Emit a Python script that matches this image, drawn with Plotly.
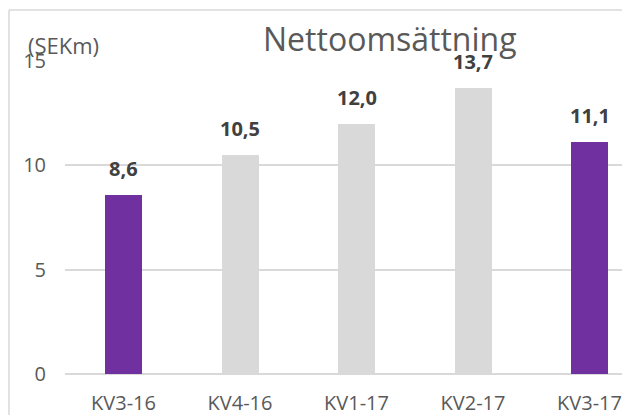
import plotly.graph_objects as go

categories = ["KV3-16", "KV4-16", "KV1-17", "KV2-17", "KV3-17"]
values = [8.6, 10.5, 12.0, 13.7, 11.1]
value_labels = ["8,6", "10,5", "12,0", "13,7", "11,1"]
bar_colors = ["#7030A0", "#D9D9D9", "#D9D9D9", "#D9D9D9", "#7030A0"]
y_ticks = [0, 5, 10, 15]

# body margin is removed (see post_script), so figure == window
W, H = 622, 415
L = 65
T = 61
B = H - 374
R = 0
pw = W - L - R
ph = H - T - B
step = 116.5  # px per category
first_c = 123.5

def px_x(px):
    return (px - L) / pw

def px_y(py):
    return (H - B - py) / ph

fig = go.Figure()
fig.add_trace(go.Bar(
    x=list(range(len(categories))), y=values,
    marker=dict(color=bar_colors, line=dict(width=0)),
    width=37 / step, hoverinfo="skip",
))

for i, (v, lab) in enumerate(zip(values, value_labels)):
    fig.add_annotation(x=i, y=v, text="<b>%s</b>" % lab, showarrow=False,
                       xref="x", yref="y", yanchor="bottom", yshift=11,
                       font=dict(family="Open Sans", size=20, color="#404040"))

fig.add_annotation(text="Nettoomsättning", x=px_x(390), y=px_y(38),
                   xref="paper", yref="paper", showarrow=False,
                   xanchor="center", yanchor="middle",
                   font=dict(family="Open Sans", size=32, color="#595959"))
fig.add_annotation(text="(SEKm)", x=px_x(26), y=px_y(45),
                   xref="paper", yref="paper", showarrow=False,
                   xanchor="left", yanchor="middle",
                   font=dict(family="Open Sans", size=22, color="#595959"))

# chart border (left and top)
bx = px_x(9)
by = px_y(10)
fig.add_shape(type="line", xref="paper", yref="paper", x0=bx, x1=bx, y0=by, y1=px_y(415),
              line=dict(color="#D9D9D9", width=1.5))
fig.add_shape(type="line", xref="paper", yref="paper", x0=bx, x1=1.0, y0=by, y1=by,
              line=dict(color="#D9D9D9", width=1.5))

x_lo = -(first_c - L) / step
x_hi = (W - first_c) / step
fig.update_layout(
    width=W, height=H,
    margin=dict(l=L, r=R, t=T, b=B, pad=0),
    paper_bgcolor="white", plot_bgcolor="white",
    showlegend=False,
    bargap=0,
    xaxis=dict(range=[x_lo, x_hi], tickmode="array",
               tickvals=list(range(len(categories))), ticktext=categories,
               showgrid=False, zeroline=False, showline=False,
               ticks="", ticklabelstandoff=15,
               tickfont=dict(family="Open Sans", size=20, color="#595959")),
    yaxis=dict(range=[0, 15], tickmode="array", tickvals=y_ticks,
               showgrid=True, gridcolor="#D9D9D9", gridwidth=1.5,
               zeroline=True, zerolinecolor="#D9D9D9", zerolinewidth=1.5,
               showline=False, ticks="", ticklabelstandoff=18,
               tickfont=dict(family="Open Sans", size=20, color="#595959")),
)

fig.write_html("out.html",
               config={"displayModeBar": False},
               post_script="document.body.style.margin='0';document.body.style.overflow='hidden';")
